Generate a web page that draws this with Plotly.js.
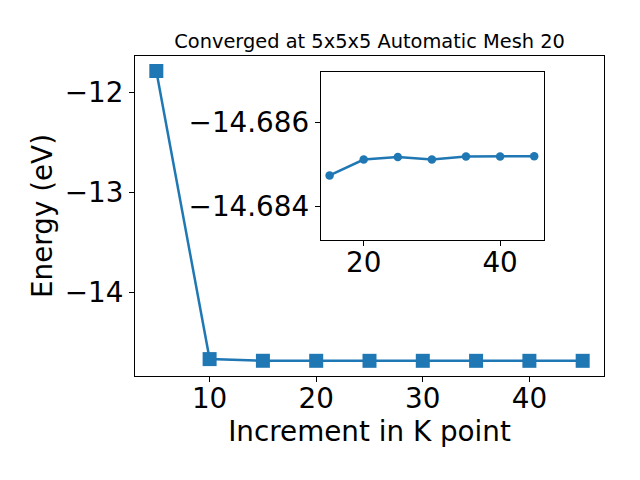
<!DOCTYPE html>
<html>
<head>
<meta charset="utf-8">
<script src="https://cdn.plot.ly/plotly-3.0.1.min.js"></script>
<style>html,body{margin:0;padding:0;background:#fff;}#chart{width:640px;height:480px;}</style>
</head>
<body>
<div id="chart"></div>
<script>
// Data
const kpoints = [5, 10, 15, 20, 25, 30, 35, 40, 45];
const energy = [-11.787, -14.668, -14.68474, -14.68512, -14.68518, -14.68512, -14.68519, -14.68519, -14.6852];
const insetK = kpoints.slice(2);
const insetE = energy.slice(2);
const mainXTicks = [10, 20, 30, 40];
const mainYTicks = [-12, -13, -14];
const insetYTicks = [-14.686, -14.684];
const insetXTicks = [20, 40];

const blue = '#1f77b4';
const font = {family: 'DejaVu Sans', size: 27.8, color: '#000'};

const traces = [
  {
    x: kpoints, y: energy, type: 'scatter', mode: 'lines+markers',
    line: {color: blue, width: 2.5},
    marker: {symbol: 'square', size: 14, color: blue},
    xaxis: 'x', yaxis: 'y', hoverinfo: 'skip'
  },
  {
    x: insetK, y: insetE, type: 'scatter', mode: 'lines+markers',
    line: {color: blue, width: 2.5},
    marker: {symbol: 'circle', size: 8.5, color: blue},
    xaxis: 'x2', yaxis: 'y2', hoverinfo: 'skip'
  }
];

const axisCommon = {
  showline: true, mirror: true, linecolor: '#000', linewidth: 1,
  ticks: 'outside', ticklen: 5, tickwidth: 1, tickcolor: '#000',
  showgrid: false, zeroline: false, tickfont: font
};

const layout = {
  width: 640, height: 480,
  margin: {l: 135, r: 36, t: 56, b: 104, pad: 0},
  paper_bgcolor: '#fff', plot_bgcolor: '#fff',
  showlegend: false,
  font: font,
  title: {
    text: 'Converged at 5x5x5 Automatic Mesh 20',
    font: {family: 'DejaVu Sans', size: 19.4, color: '#000'},
    x: 0.5775, xanchor: 'center', y: 0.915, yanchor: 'middle'
  },
  xaxis: Object.assign({}, axisCommon, {
    domain: [0, 1], range: [3, 47], tickvals: mainXTicks,
    ticklabelstandoff: -7,
    title: {text: 'Increment in K point', font: font, standoff: 6},
    anchor: 'y'
  }),
  yaxis: Object.assign({}, axisCommon, {
    domain: [0, 1], range: [-14.837, -11.637], tickvals: mainYTicks,
    title: {text: 'Energy (eV)', font: font, standoff: 4},
    anchor: 'x'
  }),
  xaxis2: Object.assign({}, axisCommon, {
    domain: [0.396, 0.873], range: [13.7, 46.5], tickvals: insetXTicks,
    ticklabelstandoff: -7,
    anchor: 'y2'
  }),
  yaxis2: Object.assign({}, axisCommon, {
    domain: [0.425, 0.949], range: [-14.6832, -14.6872], tickvals: insetYTicks,
    tickformat: '.3f', anchor: 'x2'
  })
};

Plotly.newPlot('chart', traces, layout, {displayModeBar: false, staticPlot: true});
</script>
</body>
</html>
